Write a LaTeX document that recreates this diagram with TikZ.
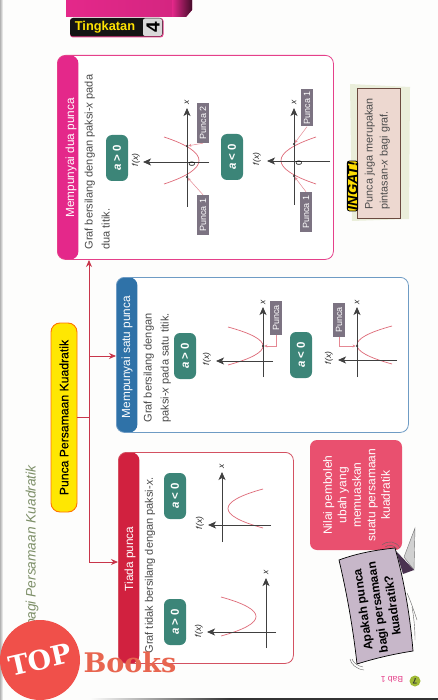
\documentclass[tikz,border=0pt]{standalone}
\usepackage{fontspec}
\setmainfont{Liberation Sans}
\newfontfamily\slabfont{DejaVu Serif}
\usetikzlibrary{arrows.meta,calc,shapes.geometric}
\definecolor{paper}{HTML}{FDFDFC}
\definecolor{bodyink}{HTML}{4A4A4A}
\definecolor{tealbadge}{HTML}{3C8578}
\definecolor{redline}{HTML}{C8354A}
\definecolor{pinkline}{HTML}{E5408A}
\definecolor{pinkhead}{HTML}{E4288A}
\definecolor{bluehead}{HTML}{2F72A8}
\definecolor{blueline}{HTML}{6E9BC4}
\definecolor{redhead}{HTML}{D1213F}
\definecolor{curvecol}{HTML}{DE6A78}
\definecolor{graylabel}{HTML}{7C7382}
\definecolor{notepink}{HTML}{E9506F}
\definecolor{bubble}{HTML}{C7B7C9}
\definecolor{headgreen}{HTML}{7D8F68}
\definecolor{logored}{HTML}{F0504A}
\definecolor{logotext}{HTML}{E8654F}
\definecolor{ingatfill}{HTML}{EDD8D0}
\definecolor{ingatedge}{HTML}{6B4A3F}
\definecolor{ingatshadow}{HTML}{EAEEDA}
\definecolor{folddark}{HTML}{4A3350}
\tikzset{
  x=1pt,y=-1pt,
  panel/.style={draw=#1,line width=0.8pt,rounded corners=8pt,fill=white,anchor=north west,inner sep=0pt},
  headband/.style={path picture={\fill[#1] (path picture bounding box.north west) rectangle ([xshift=21pt]path picture bounding box.south west);}},
  headtext/.style={text=white,rotate=90,font=\fontsize{11.8}{13}\selectfont},
  bodytext/.style={text=bodyink,rotate=90,font=\fontsize{11}{16}\selectfont,align=left,anchor=west},
  badge/.style={fill=tealbadge,rotate=90,rounded corners=6pt,minimum height=22pt,minimum width=46pt,inner sep=0pt,text=white,font=\fontsize{11.5}{12}\bfseries\selectfont},
  axis/.style={line width=0.8pt,draw=black!75,-{Stealth[length=8pt,width=7pt,inset=2pt]}},
  curve/.style={draw=curvecol,line width=0.7pt},
  axlabel/.style={rotate=90,font=\fontsize{8.5}{9}\itshape\selectfont,text=black!85,inner sep=0pt},
  zerolabel/.style={rotate=90,font=\fontsize{8.5}{9}\selectfont,inner sep=0pt},
  puncabox/.style={fill=graylabel,text=white,rotate=90,font=\fontsize{9}{10}\selectfont,minimum width=#1,minimum height=11.5pt,inner sep=0pt},
  leader/.style={draw=curvecol!80,line width=0.5pt,-{Stealth[length=3pt,width=3pt]}},
  dot/.style={circle,fill=black!80,inner sep=0pt,minimum size=2.5pt},
  branch/.style={draw=redline,line width=0.9pt},
  branchtip/.style={branch,-{Stealth[length=7pt,width=6pt]}},
  swoosh/.style={draw=black!60,line width=0.4pt},
}
\newcommand\agt{\textit{a} > 0}
\newcommand\alt{\textit{a} < 0}
\begin{document}
\begin{tikzpicture}
\useasboundingbox (0,0) rectangle (438,700);
\fill[paper] (0,0) rectangle (438,700);
\shade[left color=black!30,right color=paper] (0,0) rectangle (3,700);
\shade[left color=paper,right color=black!80] (90,698) rectangle (230,700);
\fill[black!80] (230,698) rectangle (438,700);
% tab
\shade[left color=pinkhead,right color=pinkhead!92!black] (66,0) -- (192,0) -- (192,10) -- (186,17) -- (66,17) -- cycle;
\shade[left color=pinkhead,right color=black!70!pinkhead] (172,0) -- (192,0) -- (192,10) -- (186,17) -- (172,17) -- cycle;
\fill[pinkline,rounded corners=3pt] (70,18) rectangle (163.5,37.5);
\fill[black!92,rounded corners=3pt] (70,18) rectangle (162.5,36.5);
\fill[black!15,rounded corners=2pt] (143,18.5) rectangle (162,36);
\node[text=yellow!85!orange,font=\fontsize{12.8}{13}\bfseries\selectfont] (tabtext) at (105,27) {Tingkatan};
\node[rotate=90,font=\fontsize{19}{19}\bfseries\selectfont,text=black] (tabnum) at (153,27.5) {4};
% running head
\node[rotate=90,font=\fontsize{13.7}{14}\itshape\selectfont,text=headgreen] (runhead) at (32,567.5) {Punca bagi Persamaan Kuadratik};
% yellow root
\node[fill=yellow!90!orange,draw=orange!90!red,line width=0.9pt,rounded corners=9pt,minimum width=26pt,minimum height=189pt,inner sep=0pt] (root) at (64,417.5) {};
\node[rotate=90,font=\fontsize{12.2}{13}\selectfont\addfontfeature{FakeBold=0.3}] (roottext) at (64,417.5) {Punca Persamaan Kuadratik};
% panels
\node[panel=pinkline,headband=pinkhead,minimum width=276pt,minimum height=204pt] (p1) at (57,55) {};
\node[panel=blueline,headband=bluehead,minimum width=292pt,minimum height=155pt] (p2) at (116,277) {};
\node[panel=redline!80!pink,headband=redhead,minimum width=175pt,minimum height=211pt] (p3) at (118,452) {};
\node[headtext] (h1) at (71,158) {Mempunyai dua punca};
\node[headtext] (h2) at (127,357) {Mempunyai satu punca};
\node[headtext] (h3) at (130,559) {Tiada punca};
\node[bodytext] (t1) at (98,253) {\begin{tabular}{@{}l@{}}Graf bersilang dengan paksi-\textit{x} pada\\[1pt]dua titik.\end{tabular}};
\node[bodytext] (t2) at (157,426) {\begin{tabular}{@{}l@{}}Graf bersilang dengan\\[1pt]paksi-\textit{x} pada satu titik.\end{tabular}};
\node[bodytext] (t3) at (150,657) {Graf tidak bersilang dengan paksi-\textit{x}.};
% connectors
\coordinate (jr) at (89,417.5);
\coordinate (jb) at (89,562);
\coordinate (jm) at (89,356);
\coordinate (jt) at (89,260);
\draw[branch] (root.east |- jr) -- (jr);
\draw[branch] (jb) -- (jr);
\draw[branch] (jr) -- (jm);
\draw[branchtip] (jm) -- (jt);
\draw[branchtip] (jm) -- (p2.west |- jm);
\draw[branchtip] (jb) -- (p3.west |- jb);
% badges
\node[badge] (b1) at (117,158) {\agt};
\node[badge] (b2) at (232,157) {\alt};
\node[badge] (b3) at (185,356) {\agt};
\node[badge] (b4) at (301,355) {\alt};
\node[badge] (b5) at (175,496) {\alt};
\node[badge] (b6) at (175,622) {\agt};
% graph 1
\draw[curve] (164,137) .. controls (210.7,152.3) and (210.7,168.7) .. (164,184);
\draw[axis] (187,207) -- (187,108);
\draw[axis] (209,162) -- (143,162);
\node[axlabel] (g1x) at (187,102) {x};
\node[axlabel] (g1f) at (136,160) {f(x)};
\node[zerolabel] (g1o) at (192,164) {0};
\node[dot] (g1a) at (187,146) {};
\node[dot] (g1b) at (187,177) {};
\node[puncabox=40pt] (g1p2) at (203,123) {Punca 2};
\node[puncabox=40pt] (g1p1) at (203,215) {Punca 1};
\draw[leader] (g1p2.west) -- (g1a);
\draw[leader] (g1p1.east) -- (g1b);
% graph 2
\draw[curve] (316,137) .. controls (269.3,152.7) and (269.3,168.3) .. (316,184);
\draw[axis] (294,205) -- (294,108);
\draw[axis] (330,161) -- (267,161);
\node[axlabel] (g2x) at (294,102) {x};
\node[axlabel] (g2f) at (257,159) {f(x)};
\node[zerolabel] (g2o) at (299,163) {0};
\node[dot] (g2a) at (294,144) {};
\node[dot] (g2b) at (294,176) {};
\node[puncabox=37pt] (g2p2) at (307,108) {Punca 1};
\node[puncabox=40pt] (g2p1) at (306,212) {Punca 1};
\draw[leader] (g2p2.west) -- (g2a);
\draw[leader] (g2p1.east) -- (g2b);
% graph 3
\draw[curve] (228,327) .. controls (274.7,339.7) and (274.7,352.3) .. (228,365);
\draw[axis] (263,377) -- (263,307);
\draw[axis] (273,361) -- (216,361);
\node[axlabel] (g3x) at (263,302) {x};
\node[axlabel] (g3f) at (207,359) {f(x)};
\node[dot] (g3a) at (263,346) {};
\node[puncabox=34pt] (g3p) at (276,318) {Punca};
\draw[leader] (g3p.west) |- (g3a);
% graph 4
\draw[curve] (392,326) .. controls (345.3,338.7) and (345.3,351.3) .. (392,364);
\draw[axis] (357,377) -- (357,307);
\draw[axis] (397,360) -- (338,360);
\node[axlabel] (g4x) at (357,302) {x};
\node[axlabel] (g4f) at (329,358) {f(x)};
\node[dot] (g4a) at (357,346) {};
\node[puncabox=34pt] (g4p) at (339,320) {Punca};
\draw[leader] (g4p.west) |- (g4a);
% graph 5
\draw[curve] (263,489) .. controls (216.3,501.7) and (216.3,515.3) .. (263,528);
\draw[axis] (222,542) -- (222,472);
\draw[axis] (271,525) -- (208,525);
\node[axlabel] (g5x) at (222,466) {x};
\node[axlabel] (g5f) at (200,523) {f(x)};
% graph 6
\draw[curve] (221,597) .. controls (267.7,609.7) and (267.7,623.3) .. (221,636);
\draw[axis] (266,648) -- (266,578);
\draw[axis] (276,632) -- (207,632);
\node[axlabel] (g6x) at (266,572) {x};
\node[axlabel] (g6f) at (199,631) {f(x)};
% ingat
\fill[ingatshadow] (350,84) -- (410,87) -- (409,219) -- (352,221) -- cycle;
\node[fill=ingatfill,draw=ingatedge,line width=0.8pt,anchor=north west,minimum width=43pt,minimum height=130pt,inner sep=0pt] (ingatbox) at (357,88) {};
\node[bodytext,font=\fontsize{10.8}{15}\selectfont] (ingattext) at (377,213) {\begin{tabular}{@{}l@{}}Punca juga merupakan\\pintasan-\textit{x} bagi graf.\end{tabular}};
\node[rotate=90,fill=yellow!80!orange,draw=black,line width=0.8pt,rounded corners=2pt,inner xsep=0.5pt,inner ysep=0pt,font=\fontsize{14.5}{15}\bfseries\itshape\selectfont] (ingat) at (352.5,186) {INGAT!};
% note
\node[fill=notepink,rounded corners=7pt,minimum width=92pt,minimum height=110pt,inner sep=0pt] (note) at (356,495) {};
\node[rotate=90,text=white,align=center,font=\fontsize{12}{14.5}\selectfont] (notetext) at (356.5,495) {Nilai pemboleh\\ubah yang\\memuaskan\\suatu persamaan\\kuadratik};
% bubble
\fill[black!18,draw=black!55,line width=0.4pt] (404,557) -- (415,528) -- (414,570) -- cycle;
\fill[folddark] (396,551) -- (414,570) -- (403,574) -- cycle;
\draw[black,line width=0.7pt,fill=bubble] (339,560) .. controls (358,553) and (376,550) .. (395,548) .. controls (404,580) and (410,615) .. (413,651) .. controls (394,654) and (376,658) .. (357,664) .. controls (353,628) and (347,594) .. (339,560) -- cycle;
\node[rotate=98,align=center,font=\fontsize{12}{15}\bfseries\selectfont] (bubtext) at (377.5,607.5) {Apakah punca\\bagi persamaan\\kuadratik?};
\draw[swoosh] (382,545) .. controls (388,540) and (396,541) .. (400,548);
\draw[swoosh] (385,547) .. controls (389,544) and (394,545) .. (397,549);
\draw[swoosh] (350,659) .. controls (351,664) and (356,669) .. (364,670);
\draw[swoosh] (352,659) .. controls (353,662) and (357,666) .. (363,667);
\draw[swoosh] (407,593) .. controls (411,602) and (414,611) .. (417,620);
\draw[swoosh] (412,607) .. controls (414,618) and (415,629) .. (415,640);
% footer
\node[rotate=180,text=pinkline,font=\fontsize{8.5}{9}\selectfont] (bab) at (392,680) {Bab 1};
\node[circle,fill=yellow!70!green!80!black,minimum size=11pt,inner sep=0pt] (pagec) at (415,681) {};
\node[rotate=180,font=\fontsize{8}{9}\bfseries\selectfont,text=black!80] (pagen) at (415,681) {7};
% logo
\node[circle,fill=logored,minimum size=80pt,inner sep=0pt] (logo) at (40,660) {};
\node[rotate=13,text=white,font=\slabfont\fontsize{27}{27}\bfseries\selectfont,inner sep=0pt] (logotop) at (40,660) {TOP};
\node[text=logotext,font=\slabfont\fontsize{27}{27}\bfseries\selectfont,inner sep=0pt] (logobooks) at (130,662) {Books};
\end{tikzpicture}
\end{document}
